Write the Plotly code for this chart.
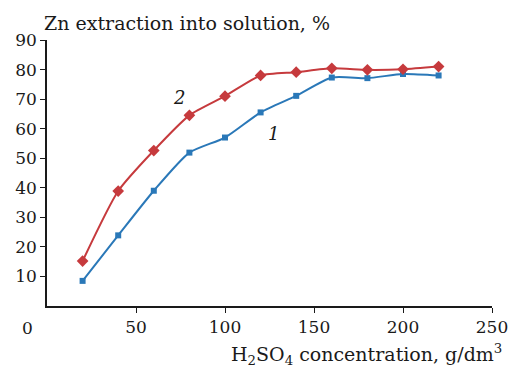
import plotly.graph_objects as go

conc = [20, 40, 60, 80, 100, 120, 140, 160, 180, 200, 220]
series1 = [8.5, 23.9, 39.0, 51.9, 57.0, 65.5, 71.1, 77.3, 77.1, 78.5, 78.0]
series2 = [15.2, 38.9, 52.6, 64.5, 71.0, 78.0, 79.1, 80.4, 79.9, 80.1, 81.0]
x_ticks = [50, 100, 150, 200, 250]
y_ticks = [10, 20, 30, 40, 50, 60, 70, 80, 90]

FONT = "DejaVu Serif"
BLUE = "#2a78b8"
RED = "#c63a3d"

fig = go.Figure()
fig.add_trace(go.Scatter(
    x=conc, y=series1, mode="lines+markers",
    line=dict(color=BLUE, width=2, shape="spline", smoothing=0.6),
    marker=dict(symbol="square", size=6, color=BLUE),
))
fig.add_trace(go.Scatter(
    x=conc, y=series2, mode="lines+markers",
    line=dict(color=RED, width=2, shape="spline", smoothing=0.6),
    marker=dict(symbol="diamond", size=9, color=RED),
))

fig.update_layout(
    width=520, height=370,
    margin=dict(l=47, r=18, t=40, b=64),
    paper_bgcolor="white", plot_bgcolor="white",
    showlegend=False,
    font=dict(family=FONT, size=17, color="#1a1a1a"),
    xaxis=dict(
        range=[0, 250], tickvals=x_ticks, ticks="outside", ticklen=5,
        showline=True, linecolor="#1a1a1a", linewidth=1.5, tickcolor="#1a1a1a",
        showgrid=False, zeroline=False, tickfont=dict(size=17, family=FONT),
    ),
    yaxis=dict(
        range=[0, 90], tickvals=y_ticks, ticks="outside", ticklen=5,
        showline=True, linecolor="#1a1a1a", linewidth=1.5, tickcolor="#1a1a1a",
        showgrid=False, zeroline=False, tickfont=dict(size=17, family=FONT),
    ),
    annotations=[
        dict(text="Zn extraction into solution, %", xref="paper", yref="paper",
             x=0, y=1.0, yshift=4, xshift=-5, xanchor="left", yanchor="bottom",
             showarrow=False, font=dict(size=19, family=FONT)),
        dict(text="H<sub>2</sub>SO<sub>4</sub> concentration, g/dm<sup>3</sup>",
             xref="paper", yref="paper", x=1.0, y=0, yshift=-33, xshift=12,
             xanchor="right", yanchor="top", showarrow=False,
             font=dict(size=19, family=FONT)),
        dict(text="0", xref="paper", yref="paper", x=0, y=0, xshift=-20, yshift=-10,
             xanchor="center", yanchor="top", showarrow=False,
             font=dict(size=17, family=FONT)),
        dict(text="<i>2</i>", x=74, y=70.5, xref="x", yref="y", showarrow=False,
             font=dict(size=18, family=FONT)),
        dict(text="<i>1</i>", x=127.5, y=58.5, xref="x", yref="y", showarrow=False,
             font=dict(size=18, family=FONT)),
    ],
)

fig.write_html("out.html")
